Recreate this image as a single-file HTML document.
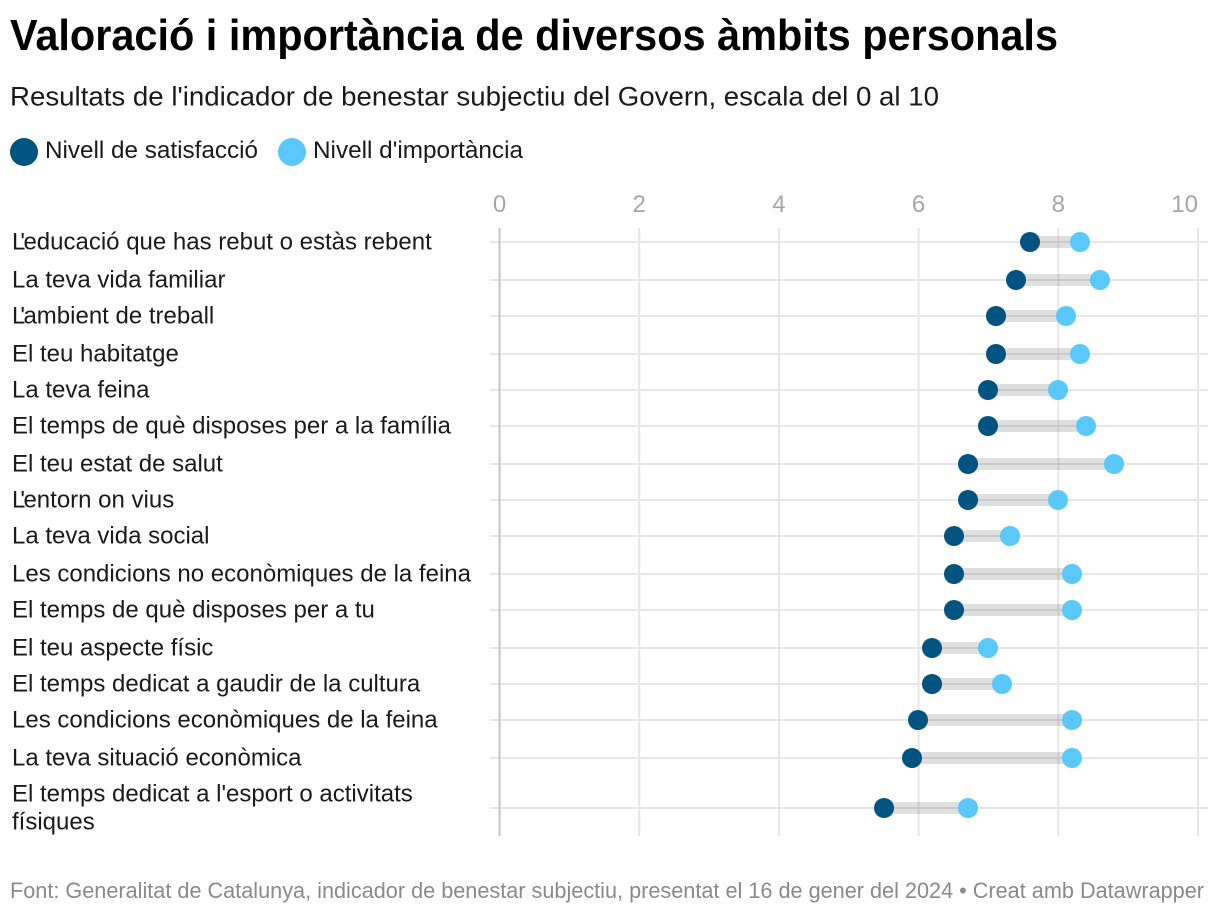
<!DOCTYPE html>
<html lang="ca">
<head>
<meta charset="utf-8">
<title>Valoració i importància de diversos àmbits personals</title>
<style>
html,body{margin:0;padding:0;background:#fff;width:1220px;height:914px;overflow:hidden}
svg{display:block;font-family:"Liberation Sans",sans-serif}
</style>
</head>
<body>
<svg id="chart" width="1220" height="914" viewBox="0 0 1220 914" xmlns="http://www.w3.org/2000/svg">
  <text x="10" y="50" font-size="44" font-weight="700" fill="#000" textLength="1048" lengthAdjust="spacingAndGlyphs">Valoració i importància de diversos àmbits personals</text>
  <text x="10" y="105.5" font-size="27" fill="#1a1a1a" textLength="929" lengthAdjust="spacingAndGlyphs">Resultats de l'indicador de benestar subjectiu del Govern, escala del 0 al 10</text>
  <circle cx="24" cy="152" r="14" fill="#00547f"/>
  <text x="45" y="158" font-size="24" fill="#1a1a1a" textLength="213" lengthAdjust="spacingAndGlyphs">Nivell de satisfacció</text>
  <circle cx="292" cy="152" r="14" fill="#5ac8fa"/>
  <text x="313" y="158" font-size="24" fill="#1a1a1a" textLength="210" lengthAdjust="spacingAndGlyphs">Nivell d'importància</text>
  <g id="grid"></g>
  <g id="ticks"></g>
  <g id="ranges"></g>
  <g id="labels"></g>
  <g id="dots"></g>
  <text x="10" y="898" font-size="22" fill="#8a8a8a" textLength="1194" lengthAdjust="spacingAndGlyphs">Font: Generalitat de Catalunya, indicador de benestar subjectiu, presentat el 16 de gener del 2024 • Creat amb Datawrapper</text>
</svg>
<script>
const categories = [
  ["L'educació que has rebut o estàs rebent"],
  ["La teva vida familiar"],
  ["L'ambient de treball"],
  ["El teu habitatge"],
  ["La teva feina"],
  ["El temps de què disposes per a la família"],
  ["El teu estat de salut"],
  ["L'entorn on vius"],
  ["La teva vida social"],
  ["Les condicions no econòmiques de la feina"],
  ["El temps de què disposes per a tu"],
  ["El teu aspecte físic"],
  ["El temps dedicat a gaudir de la cultura"],
  ["Les condicions econòmiques de la feina"],
  ["La teva situació econòmica"],
  ["El temps dedicat a l'esport o activitats", "físiques"]
];
const satisfaction = [7.6, 7.4, 7.1, 7.1, 7.0, 7.0, 6.7, 6.7, 6.5, 6.5, 6.5, 6.2, 6.2, 6.0, 5.9, 5.5];
const importance = [8.3, 8.6, 8.1, 8.3, 8.0, 8.4, 8.8, 8.0, 7.3, 8.2, 8.2, 7.0, 7.2, 8.2, 8.2, 6.7];
const tickValues = [0, 2, 4, 6, 8, 10];

const NS = 'http://www.w3.org/2000/svg';
const xScale = function (v) { return 499.5 + v * 69.85; };
const xSnap = function (v) { return 2 * Math.round(xScale(v) / 2); };
const yScale = function (i) {
  let extra = 0;
  for (let k = 0; k < i; k++) extra += (categories[k].length - 1) * 28;
  extra += (categories[i].length - 1) * 14;
  const raw = 242.9 + i * 36.74 + extra;
  return 2 * Math.round(raw / 2);
};
function make(tag, parent, attrs) {
  const el = document.createElementNS(NS, tag);
  for (const k in attrs) el.setAttribute(k, attrs[k]);
  parent.appendChild(el);
  return el;
}
const grid = document.getElementById('grid');
const ticks = document.getElementById('ticks');
const ranges = document.getElementById('ranges');
const labels = document.getElementById('labels');
const dots = document.getElementById('dots');

categories.forEach(function (c, i) {
  const y = yScale(i);
  const line = make('line', grid, {x1: 490, x2: 1208, y1: y, y2: y, stroke: '#e6e6e6', 'stroke-width': 2});
  
  
});
tickValues.forEach(function (t, i) {
  const x = xScale(t);
  const line = make('line', grid, {x1: x, x2: x, y1: 228, y2: 836, stroke: t === 0 ? '#c4c4c4' : '#e6e6e6', 'stroke-width': 2});
  
  
  const last = i === tickValues.length - 1;
  const label = make('text', ticks, {x: x, y: 212, 'font-size': 24, fill: '#a6a6a6', 'text-anchor': last ? 'end' : 'middle'});
  label.textContent = String(t);
  
  
});
categories.forEach(function (c, i) {
  const y = yScale(i);
  const bar = make('line', ranges, {x1: xSnap(satisfaction[i]), x2: xSnap(importance[i]), y1: y, y2: y, stroke: '#000', 'stroke-opacity': 0.125, 'stroke-width': 12});
  
  
  const top = y - (c.length - 1) * 14;
  c.forEach(function (textLine, j) {
    const t = make('text', labels, {x: 12, y: top + j * 28 + 7.5, 'font-size': 24, fill: '#1a1a1a'});
    if (textLine.indexOf("L'") === 0) {
      const head = make('tspan', t, {});
      head.textContent = "L";
      const mark = make('tspan', t, {dx: -5});
      mark.textContent = "'";
      const rest = make('tspan', t, {dx: -1.5});
      rest.textContent = textLine.slice(2);
    } else {
      t.textContent = textLine;
    }
    
    
  });
  const a = make('circle', dots, {cx: xSnap(satisfaction[i]), cy: y, r: 10, fill: '#00547f'});
  
  
  const b = make('circle', dots, {cx: xSnap(importance[i]), cy: y, r: 10, fill: '#5ac8fa'});
  
  
});
</script>
</body>
</html>
